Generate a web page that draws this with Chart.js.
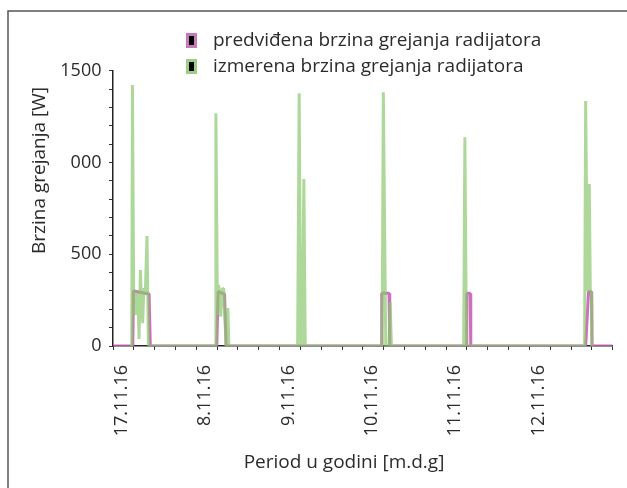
<!DOCTYPE html>
<html><head><meta charset="utf-8">
<script src="https://cdn.jsdelivr.net/npm/chart.js@4"></script>
<style>html,body{margin:0;padding:0;background:#fff}#wrap{width:627px;height:488px}</style>
</head><body><div id="wrap"><canvas id="c" width="627" height="488"></canvas></div>
<script>
// ---- data ----
const seriesNames = ['predviđena brzina grejanja radijatora', 'izmerena brzina grejanja radijatora'];
const xTickLabels = ['17.11.16', '8.11.16', '9.11.16', '10.11.16', '11.11.16', '12.11.16'];
const yTickValues = [0, 500, 1000, 1500];
const yTickTexts = ['0', '500', '000', '1500'];
const xAxisTitle = 'Period u godini [m.d.g]';
const yAxisTitle = 'Brzina grejanja [W]';

// time in hours from the start of the period
const predictedHours  = [0, 5.7, 5.9, 10.4, 10.75, 29.9, 30.3, 32.15, 32.6, 77.25, 77.45, 79.55, 79.75, 101.75, 101.95, 102.9, 103.1, 136.2, 137.05, 137.9, 138.05, 144];
const predictedValues = [0, 0,   300, 283,  0,     0,    296,  282,   0,    0,     287,   287,   0,     0,      287,    287,   0,     0,     296,    296,   0,      0];

const measuredHours  = [5.4, 5.6, 6.0, 6.4, 6.8, 7.2, 7.5, 7.9, 8.1, 8.55, 8.9, 9.3, 9.8, 10.2,
                        29.45, 29.65, 30.1, 30.4, 30.8, 31.05, 31.5, 31.9, 32.2, 32.6, 33.1, 33.4,
                        53.2, 53.65, 54.1, 54.55, 55.0, 55.4,
                        77.55, 77.9, 78.6, 79.55, 79.85, 80.25,
                        101.05, 101.4, 101.85,
                        135.9, 136.2, 136.75, 137.25, 137.55, 137.85, 138.0];
const measuredValues = [0, 1422, 169, 300, 170, 290, 38, 414, 300, 125, 316, 280, 599, 0,
                        0, 1268, 170, 332, 290, 160, 310, 314, 170, 0, 207, 0,
                        0, 1377, 0, 0, 910, 0,
                        0, 1382, 0, 0, 238, 0,
                        0, 1137, 0,
                        0, 1335, 300, 883, 296, 296, 0];

// ---- styling ----
const FONT = '"Open Sans"';
const TEXT = '#2b2b2b';
const LEG_FS = 19;
const PINK = 'rgba(196, 92, 176, 0.88)';
const GREEN = 'rgba(140, 200, 110, 0.7)';

function marker(border) {
  const c = document.createElement('canvas');
  c.width = 11; c.height = 15;
  const g = c.getContext('2d');
  g.fillStyle = border; g.fillRect(0, 0, 11, 15);
  g.fillStyle = '#000'; g.fillRect(3, 3, 5, 9);
  return c;
}
const markers = [marker('#c77ab9'), marker('#9ccf84')];

const legendW = 43 - LEG_FS;
const legendLeft = 191.5 - legendW / 2 - 7;

const framePlugin = {
  id: 'frameAndTitles',
  beforeDraw(chart) {
    const lg = chart.legend;
    lg.left = legendLeft;
    lg.top = 24;
    lg.height = 64;
    lg.bottom = 24 + 64;
    const ctx = chart.ctx;
    ctx.save();
    ctx.strokeStyle = '#555';
    ctx.lineWidth = 1.5;
    ctx.beginPath();
    ctx.moveTo(8, 488); ctx.lineTo(8, 11); ctx.lineTo(627, 11);
    ctx.stroke();
    ctx.restore();
  },
  afterDraw(chart) {
    const ctx = chart.ctx;
    ctx.save();
    ctx.fillStyle = TEXT;
    ctx.font = '19px ' + FONT;
    ctx.textAlign = 'center';
    ctx.textBaseline = 'middle';
    ctx.fillText(xAxisTitle, 344, 463);
    ctx.translate(40, 170.5);
    ctx.rotate(-Math.PI / 2);
    ctx.fillText(yAxisTitle, 0, 0);
    ctx.restore();
  }
};

const toPoints = (xs, ys) => xs.map((x, i) => ({ x, y: ys[i] }));

const axisCommon = {
  border: { display: true, color: '#222', width: 1.5 },
  grid: { drawOnChartArea: false, drawTicks: true, tickLength: 4, color: '#333', lineWidth: 1 },
};

new Chart(document.getElementById('c'), {
  type: 'line',
  data: {
    datasets: [
      { label: seriesNames[0], data: toPoints(predictedHours, predictedValues), borderColor: PINK, borderWidth: 3, pointRadius: 0, tension: 0, borderJoinStyle: 'bevel', order: 2 },
      { label: seriesNames[1], data: toPoints(measuredHours, measuredValues), borderColor: GREEN, borderWidth: 3, pointRadius: 0, tension: 0, borderJoinStyle: 'bevel', order: 1 }
    ]
  },
  options: {
    responsive: false,
    devicePixelRatio: 1,
    animation: false,
    layout: { padding: { top: 24, right: 14.3, bottom: 0, left: 0 } },
    plugins: {
      tooltip: { enabled: false },
      legend: {
        position: 'top', align: 'start', maxHeight: 46.7,
        labels: {
          usePointStyle: true, pointStyleWidth: legendW, padding: 7,
          color: TEXT, font: { family: FONT, size: LEG_FS },
          generateLabels: (chart) => chart.data.datasets.map((ds, i) => ({
            text: ds.label, pointStyle: markers[i], fillStyle: '#000', strokeStyle: '#000', lineWidth: 0, hidden: false, datasetIndex: i, fontColor: TEXT
          }))
        }
      }
    },
    scales: {
      x: {
        type: 'linear', position: 'bottom', min: 0, max: 144,
        ...axisCommon,
        ticks: {
          stepSize: 6, autoSkip: false, maxRotation: 90, minRotation: 90, padding: 15, labelOffset: 9,
          color: TEXT, font: { family: FONT, size: 18, lineHeight: 1.05 },
          callback: (v) => (v % 24 === 0 && v / 24 < xTickLabels.length) ? xTickLabels[v / 24] : ''
        },
        afterFit: (s) => { s.height = 142; s.paddingRight = 0; s.paddingLeft = 0; }
      },
      y: {
        type: 'linear', position: 'left', min: 0, max: 1500,
        ...axisCommon,
        ticks: {
          stepSize: 100, autoSkip: false, padding: 7.5, color: TEXT, font: { family: FONT, size: 18 },
          callback: (v) => { const k = yTickValues.indexOf(v); return k >= 0 ? yTickTexts[k] : ''; }
        },
        afterFit: (s) => { s.width = 113; }
      }
    }
  },
  plugins: [framePlugin]
});
</script>
</body></html>
